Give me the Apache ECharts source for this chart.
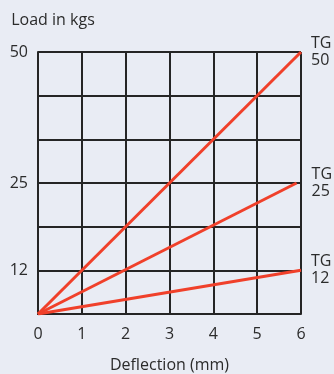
<!DOCTYPE html>
<html>
<head>
<meta charset="utf-8">
<script src="https://cdn.jsdelivr.net/npm/echarts@6/dist/echarts.min.js"></script>
<style>
  html, body { margin: 0; padding: 0; background: #e9ecf4; }
  #chart { width: 334px; height: 374px; }
</style>
</head>
<body>
<div id="chart"></div>
<script>
// deflection (mm) on x, load (kgs) on y
var xTicks = [0, 1, 2, 3, 4, 5, 6];
var yMax = 50;
var yStep = 50 / 6;
// y grid line -> printed label (the chart prints "12" on the first line)
var yLabels = ['', '12', '', '25', '', '', '50'];

var tg50 = [[0, 0], [6, 50]];
var tg25 = [[0, 0], [5.9, 25]];
var tg12 = [[0, 0], [6, 8.33]];
var seriesNames = ['TG\n50', 'TG\n25', 'TG\n12'];

var chart = echarts.init(document.getElementById('chart'));

var textColor = '#2b2b2b';
var gridColor = '#252525';
var lineColor = '#f0402a';
var font = '"Open Sans", "Noto Sans", sans-serif';

function lineSeries(name, data, dist) {
  return {
    name: name,
    type: 'line',
    data: data,
    symbol: 'none',
    silent: true,
    lineStyle: { color: lineColor, width: 3 },
    endLabel: {
      show: true,
      formatter: name,
      distance: dist,
      color: textColor,
      fontSize: 16,
      lineHeight: 17,
      fontFamily: font
    },
    z: 5
  };
}

var option = {
  backgroundColor: '#e9ecf4',
  animation: false,
  grid: { left: 38, right: 33, top: 52, bottom: 60, outerBoundsMode: 'none' },
  xAxis: {
    type: 'value',
    min: 0,
    max: 6,
    interval: 1,
    name: 'Deflection (mm)',
    nameLocation: 'middle',
    nameGap: 43,
    nameTextStyle: { color: textColor, fontSize: 16, fontFamily: font },
    axisLine: { show: true, lineStyle: { color: gridColor, width: 2 } },
    axisTick: { show: false },
    axisLabel: {
      color: textColor, fontSize: 16, margin: 12, fontFamily: font,
      formatter: function (v) { return xTicks.indexOf(v) >= 0 ? String(v) : ''; }
    },
    splitLine: { show: true, lineStyle: { color: gridColor, width: 2 } }
  },
  yAxis: {
    type: 'value',
    min: 0,
    max: yMax,
    interval: yStep,
    name: 'Load in kgs',
    nameLocation: 'end',
    nameGap: 24,
    nameTextStyle: { color: textColor, fontSize: 16, fontFamily: font, padding: [0, 0, 0, 30] },
    axisLine: { show: true, lineStyle: { color: gridColor, width: 2 } },
    axisTick: { show: false },
    axisLabel: {
      color: textColor, fontSize: 16, margin: 10, fontFamily: font,
      formatter: function (v) {
        var i = Math.round(v / yStep);
        return yLabels[i] || '';
      }
    },
    splitLine: { show: true, lineStyle: { color: gridColor, width: 2 } }
  },
  series: [
    lineSeries(seriesNames[0], tg50, 10),
    lineSeries(seriesNames[1], tg25, 15),
    lineSeries(seriesNames[2], tg12, 10)
  ]
};

chart.setOption(option);
</script>
</body>
</html>
